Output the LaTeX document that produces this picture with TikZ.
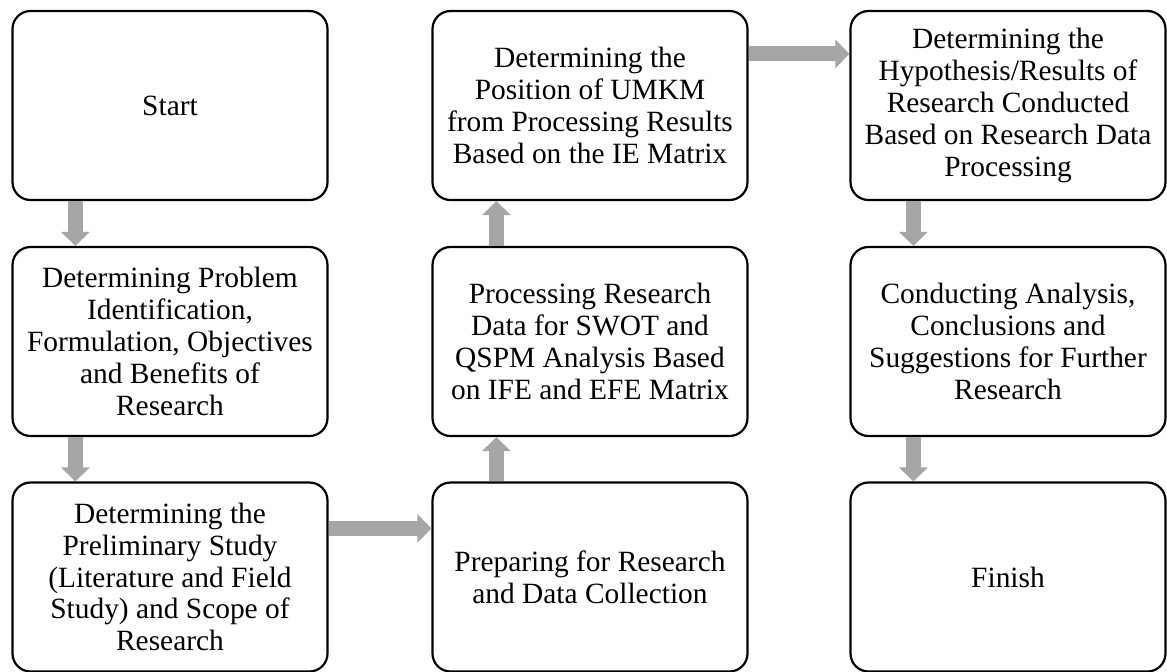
\documentclass[tikz,border=0pt]{standalone}
\usepackage{fontspec}
\setmainfont{Liberation Serif}
\definecolor{FlowGray}{HTML}{A6A6A6}
\usetikzlibrary{arrows.meta,positioning}

\begin{document}
\begin{tikzpicture}[x=0.5pt,y=-0.5pt,
    stepbox/.style={draw=black,line width=1.1pt,rounded corners=9pt,
      minimum width=157.5pt,minimum height=94.5pt,align=center,
      inner sep=2pt,font=\fontsize{14.7}{15.9}\selectfont},
    flow/.style={draw=FlowGray,line width=7.5pt,
      -{Triangle[width=14pt,length=7pt]}}]
  \useasboundingbox (0,0) rectangle (1167,671);

  \node[stepbox] (start)    at (170,105.5) {Start};
  \node[stepbox] (problem)  at (170,341.5) {Determining Problem\\Identification,\\Formulation, Objectives\\and Benefits of\\Research};
  \node[stepbox] (study)    at (170,577)   {Determining the\\Preliminary Study\\(Literature and Field\\Study) and Scope of\\Research};

  \node[stepbox] (prepare)  at (590,577)   {Preparing for Research\\and Data Collection};
  \node[stepbox] (process)  at (590,341.5) {Processing Research\\Data for SWOT and\\QSPM Analysis Based\\on IFE and EFE Matrix};
  \node[stepbox] (position) at (590,105.5) {Determining the\\Position of UMKM\\from Processing Results\\Based on the IE Matrix};

  \node[stepbox] (hypo)     at (1008,105.5) {Determining the\\Hypothesis/Results of\\Research Conducted\\Based on Research Data\\Processing};
  \node[stepbox] (conduct)  at (1008,341.5) {Conducting Analysis,\\Conclusions and\\Suggestions for Further\\Research};
  \node[stepbox] (finish)   at (1008,577)   {Finish};

  \draw[flow] ([xshift=32pt]start.south west)   -- ([xshift=32pt]problem.north west);
  \draw[flow] ([xshift=32pt]problem.south west) -- ([xshift=32pt]study.north west);
  \draw[flow] ([yshift=-23.5pt]study.north east) -- ([yshift=-23.5pt]prepare.north west);
  \draw[flow] ([xshift=32.5pt]prepare.north west) -- ([xshift=32.5pt]process.south west);
  \draw[flow] ([xshift=32.5pt]process.north west) -- ([xshift=32.5pt]position.south west);
  \draw[flow] ([yshift=-22pt]position.north east) -- ([yshift=-22pt]hypo.north west);
  \draw[flow] ([xshift=32pt]hypo.south west)    -- ([xshift=32pt]conduct.north west);
  \draw[flow] ([xshift=32pt]conduct.south west) -- ([xshift=32pt]finish.north west);
\end{tikzpicture}
\end{document}
